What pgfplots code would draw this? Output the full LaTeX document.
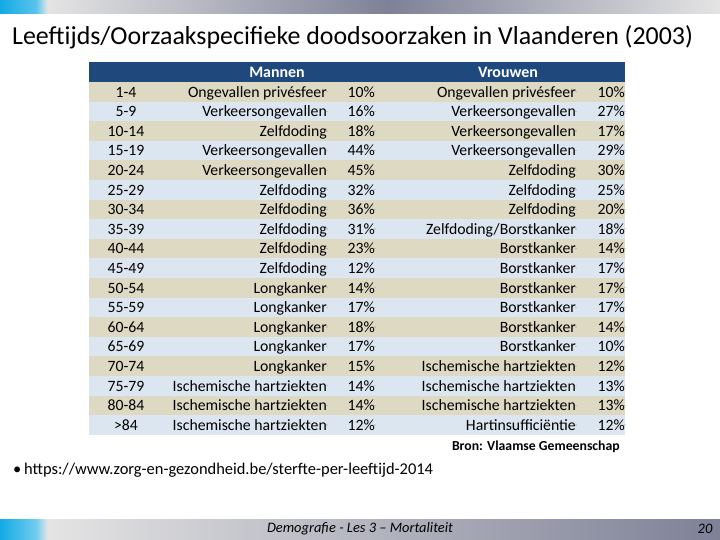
\documentclass[border=0pt]{standalone}
\usepackage{pgfplots}
\usepackage{pgfplotstable}
\pgfplotsset{compat=1.18}
\usepackage{fontspec}
\setmainfont{Carlito}
\definecolor{hdr}{HTML}{1F497D}
\definecolor{tan}{HTML}{DDD9C3}
\definecolor{lblue}{HTML}{DCE6F1}
\definecolor{barblue}{HTML}{12AAE4}
\definecolor{barlight}{HTML}{E4E4E4}
\definecolor{bardark}{HTML}{7E8197}
\pgfdeclarehorizontalshading{topbar}{100bp}{color(0bp)=(barblue); color(25bp)=(barblue); color(27.5bp)=(barblue!70!white); color(28.3bp)=(barlight); color(52bp)=(bardark); color(75bp)=(barlight); color(100bp)=(barlight)}
\pgfdeclarehorizontalshading{botbar}{100bp}{color(0bp)=(barblue); color(25bp)=(barblue); color(27.5bp)=(barblue!60!white); color(28.3bp)=(barlight); color(75bp)=(bardark); color(100bp)=(bardark)}

\pgfplotstableread{
y age mcause mpct vcause vpct
91.8 1-4 {Ongevallen privésfeer} 10 {Ongevallen privésfeer} 10
111.4 5-9 {Verkeersongevallen} 16 {Verkeersongevallen} 27
131.0 10-14 {Zelfdoding} 18 {Verkeersongevallen} 17
150.6 15-19 {Verkeersongevallen} 44 {Verkeersongevallen} 29
170.2 20-24 {Verkeersongevallen} 45 {Zelfdoding} 30
189.8 25-29 {Zelfdoding} 32 {Zelfdoding} 25
209.4 30-34 {Zelfdoding} 36 {Zelfdoding} 20
229.0 35-39 {Zelfdoding} 31 {Zelfdoding/Borstkanker} 18
248.6 40-44 {Zelfdoding} 23 {Borstkanker} 14
268.2 45-49 {Zelfdoding} 12 {Borstkanker} 17
287.8 50-54 {Longkanker} 14 {Borstkanker} 17
307.4 55-59 {Longkanker} 17 {Borstkanker} 17
327.0 60-64 {Longkanker} 18 {Borstkanker} 14
346.6 65-69 {Longkanker} 17 {Borstkanker} 10
366.2 70-74 {Longkanker} 15 {Ischemische hartziekten} 12
385.8 75-79 {Ischemische hartziekten} 14 {Ischemische hartziekten} 13
405.4 80-84 {Ischemische hartziekten} 14 {Ischemische hartziekten} 13
425.0 >84 {Ischemische hartziekten} 12 {Hartinsufficiëntie} 12
}\tbl

\begin{document}
\begin{tikzpicture}
\begin{axis}[
  width=720bp, height=540bp, scale only axis,
  xmin=0, xmax=720, ymin=0, ymax=540, y dir=reverse,
  hide axis, clip=false,
  /pgf/number format/assume math mode=true,
  every node near coord/.append style={font=\fontsize{15.8}{18}\selectfont, text=black, inner sep=0pt, text height=12.5bp, text depth=2bp},
  txt/.style={only marks, mark=*, mark size=0.01pt, mark options={draw=none, fill=none}, nodes near coords},
]
% background
\fill[white] (axis cs:0,0) rectangle (axis cs:720,540);
\shade[shading=topbar] (axis cs:0,0) rectangle (axis cs:720,14);
\shade[shading=botbar] (axis cs:0,519) rectangle (axis cs:720,540);
% table backgrounds
\fill[hdr] (axis cs:89,62) rectangle (axis cs:625,82);
\foreach \k in {0,...,17}{
  \pgfmathsetmacro{\ya}{82+19.6*\k}
  \pgfmathsetmacro{\yb}{82+19.6*(\k+1)}
  \pgfmathtruncatemacro{\parity}{mod(\k,2)}
  \ifnum\parity=0
    \edef\tmp{\noexpand\fill[tan] (axis cs:89,\ya) rectangle (axis cs:625,\yb);}
  \else
    \edef\tmp{\noexpand\fill[lblue] (axis cs:89,\ya) rectangle (axis cs:625,\yb);}
  \fi
  \tmp
}
% texts
\addplot[txt, point meta=explicit symbolic, every node near coord/.append style={anchor=center}]
  table[x expr=126, y=y, meta=age]{\tbl};
\addplot[txt, point meta=explicit symbolic, every node near coord/.append style={anchor=east}]
  table[x expr=327, y=y, meta=mcause]{\tbl};
\addplot[txt, point meta=explicit, nodes near coords={\pgfmathprintnumber[fixed,precision=0]{\pgfplotspointmeta}\%}, every node near coord/.append style={anchor=east}]
  table[x expr=375, y=y, meta=mpct]{\tbl};
\addplot[txt, point meta=explicit symbolic, every node near coord/.append style={anchor=east}]
  table[x expr=576, y=y, meta=vcause]{\tbl};
\addplot[txt, point meta=explicit, nodes near coords={\pgfmathprintnumber[fixed,precision=0]{\pgfplotspointmeta}\%}, every node near coord/.append style={anchor=east}]
  table[x expr=625, y=y, meta=vpct]{\tbl};
% headers
\node[font=\bfseries\fontsize{16}{18}\selectfont, text=white, inner sep=0pt, text height=12.5bp, text depth=2bp] at (axis cs:277,72) {Mannen};
\node[font=\bfseries\fontsize{16}{18}\selectfont, text=white, inner sep=0pt, text height=12.5bp, text depth=2bp] at (axis cs:508,72) {Vrouwen};
% title and notes
\node[anchor=west, font=\fontsize{26}{30}\selectfont, inner sep=0pt] at (axis cs:12,37) {Leeftijds/Oorzaakspecifieke doodsoorzaken in Vlaanderen (2003)};
\node[anchor=east, font=\bfseries\fontsize{13.8}{16}\selectfont, inner sep=0pt] at (axis cs:620,447) {Bron: Vlaamse Gemeenschap};
\node[anchor=west, font=\fontsize{16.5}{18}\selectfont, inner sep=0pt] at (axis cs:13,470) {\textbullet\,https://www.zorg-en-gezondheid.be/sterfte-per-leeftijd-2014};
\node[font=\itshape\fontsize{14.5}{16}\selectfont, inner sep=0pt] at (axis cs:360,529) {Demografie - Les 3 – Mortaliteit};
\node[font=\itshape\fontsize{14.5}{16}\selectfont, inner sep=0pt] at (axis cs:705,529) {20};
\end{axis}
\end{tikzpicture}
\end{document}
